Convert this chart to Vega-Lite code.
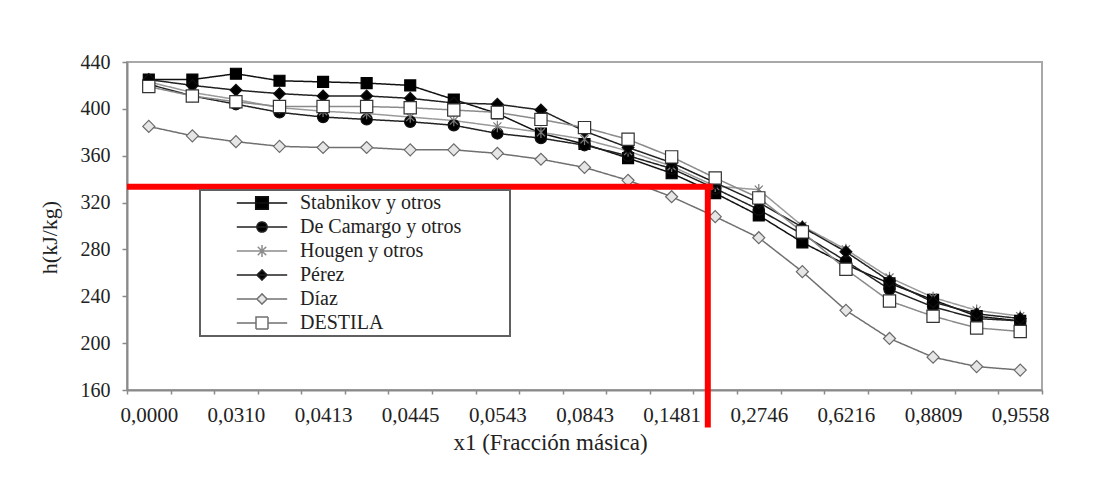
{
  "$schema": "https://vega.github.io/schema/vega-lite/v6.json",
  "width": 915,
  "height": 328,
  "autosize": {"type": "none"},
  "padding": {"left": 127, "top": 62, "right": 76, "bottom": 89},
  "background": "white",
  "config": {
    "font": "Liberation Serif",
    "view": {"stroke": "#a8a8a8", "strokeWidth": 2},
    "axis": {
      "labelFont": "Liberation Serif",
      "titleFont": "Liberation Serif",
      "labelColor": "#222222",
      "titleColor": "#222222",
      "titleFontWeight": "normal",
      "domainColor": "#8a8a8a",
      "domainWidth": 2,
      "tickColor": "#8a8a8a",
      "tickWidth": 1.5,
      "grid": false
    }
  },
  "layer": [
    {
      "data": {
        "values": [
          {"serie": "Stabnikov y otros", "i": 1, "h": 425}, {"serie": "Stabnikov y otros", "i": 2, "h": 425}, {"serie": "Stabnikov y otros", "i": 3, "h": 430}, {"serie": "Stabnikov y otros", "i": 4, "h": 424}, {"serie": "Stabnikov y otros", "i": 5, "h": 423}, {"serie": "Stabnikov y otros", "i": 6, "h": 422}, {"serie": "Stabnikov y otros", "i": 7, "h": 420}, {"serie": "Stabnikov y otros", "i": 8, "h": 408}, {"serie": "Stabnikov y otros", "i": 9, "h": 396}, {"serie": "Stabnikov y otros", "i": 10, "h": 379}, {"serie": "Stabnikov y otros", "i": 11, "h": 370}, {"serie": "Stabnikov y otros", "i": 12, "h": 358}, {"serie": "Stabnikov y otros", "i": 13, "h": 345}, {"serie": "Stabnikov y otros", "i": 14, "h": 328}, {"serie": "Stabnikov y otros", "i": 15, "h": 309}, {"serie": "Stabnikov y otros", "i": 16, "h": 286}, {"serie": "Stabnikov y otros", "i": 17, "h": 267}, {"serie": "Stabnikov y otros", "i": 18, "h": 251}, {"serie": "Stabnikov y otros", "i": 19, "h": 237}, {"serie": "Stabnikov y otros", "i": 20, "h": 223}, {"serie": "Stabnikov y otros", "i": 21, "h": 219},
          {"serie": "De Camargo y otros", "i": 1, "h": 421}, {"serie": "De Camargo y otros", "i": 2, "h": 411}, {"serie": "De Camargo y otros", "i": 3, "h": 404}, {"serie": "De Camargo y otros", "i": 4, "h": 397}, {"serie": "De Camargo y otros", "i": 5, "h": 393}, {"serie": "De Camargo y otros", "i": 6, "h": 391}, {"serie": "De Camargo y otros", "i": 7, "h": 389}, {"serie": "De Camargo y otros", "i": 8, "h": 386}, {"serie": "De Camargo y otros", "i": 9, "h": 379}, {"serie": "De Camargo y otros", "i": 10, "h": 375}, {"serie": "De Camargo y otros", "i": 11, "h": 369}, {"serie": "De Camargo y otros", "i": 12, "h": 360}, {"serie": "De Camargo y otros", "i": 13, "h": 349}, {"serie": "De Camargo y otros", "i": 14, "h": 332}, {"serie": "De Camargo y otros", "i": 15, "h": 314}, {"serie": "De Camargo y otros", "i": 16, "h": 293}, {"serie": "De Camargo y otros", "i": 17, "h": 270}, {"serie": "De Camargo y otros", "i": 18, "h": 246}, {"serie": "De Camargo y otros", "i": 19, "h": 231}, {"serie": "De Camargo y otros", "i": 20, "h": 221}, {"serie": "De Camargo y otros", "i": 21, "h": 219},
          {"serie": "Hougen y otros", "i": 1, "h": 423}, {"serie": "Hougen y otros", "i": 2, "h": 414}, {"serie": "Hougen y otros", "i": 3, "h": 408}, {"serie": "Hougen y otros", "i": 4, "h": 401}, {"serie": "Hougen y otros", "i": 5, "h": 398}, {"serie": "Hougen y otros", "i": 6, "h": 396}, {"serie": "Hougen y otros", "i": 7, "h": 393}, {"serie": "Hougen y otros", "i": 8, "h": 390}, {"serie": "Hougen y otros", "i": 9, "h": 385}, {"serie": "Hougen y otros", "i": 10, "h": 380}, {"serie": "Hougen y otros", "i": 11, "h": 374}, {"serie": "Hougen y otros", "i": 12, "h": 364}, {"serie": "Hougen y otros", "i": 13, "h": 351}, {"serie": "Hougen y otros", "i": 14, "h": 334}, {"serie": "Hougen y otros", "i": 15, "h": 331}, {"serie": "Hougen y otros", "i": 16, "h": 300}, {"serie": "Hougen y otros", "i": 17, "h": 280}, {"serie": "Hougen y otros", "i": 18, "h": 256}, {"serie": "Hougen y otros", "i": 19, "h": 239}, {"serie": "Hougen y otros", "i": 20, "h": 228}, {"serie": "Hougen y otros", "i": 21, "h": 223},
          {"serie": "Pérez", "i": 1, "h": 425}, {"serie": "Pérez", "i": 2, "h": 420}, {"serie": "Pérez", "i": 3, "h": 416}, {"serie": "Pérez", "i": 4, "h": 413}, {"serie": "Pérez", "i": 5, "h": 411}, {"serie": "Pérez", "i": 6, "h": 411}, {"serie": "Pérez", "i": 7, "h": 409}, {"serie": "Pérez", "i": 8, "h": 405}, {"serie": "Pérez", "i": 9, "h": 404}, {"serie": "Pérez", "i": 10, "h": 399}, {"serie": "Pérez", "i": 11, "h": 381}, {"serie": "Pérez", "i": 12, "h": 367}, {"serie": "Pérez", "i": 13, "h": 354}, {"serie": "Pérez", "i": 14, "h": 337}, {"serie": "Pérez", "i": 15, "h": 320}, {"serie": "Pérez", "i": 16, "h": 299}, {"serie": "Pérez", "i": 17, "h": 278}, {"serie": "Pérez", "i": 18, "h": 253}, {"serie": "Pérez", "i": 19, "h": 235}, {"serie": "Pérez", "i": 20, "h": 225}, {"serie": "Pérez", "i": 21, "h": 221},
          {"serie": "Díaz", "i": 1, "h": 385}, {"serie": "Díaz", "i": 2, "h": 377}, {"serie": "Díaz", "i": 3, "h": 372}, {"serie": "Díaz", "i": 4, "h": 368}, {"serie": "Díaz", "i": 5, "h": 367}, {"serie": "Díaz", "i": 6, "h": 367}, {"serie": "Díaz", "i": 7, "h": 365}, {"serie": "Díaz", "i": 8, "h": 365}, {"serie": "Díaz", "i": 9, "h": 362}, {"serie": "Díaz", "i": 10, "h": 357}, {"serie": "Díaz", "i": 11, "h": 350}, {"serie": "Díaz", "i": 12, "h": 339}, {"serie": "Díaz", "i": 13, "h": 325}, {"serie": "Díaz", "i": 14, "h": 308}, {"serie": "Díaz", "i": 15, "h": 290}, {"serie": "Díaz", "i": 16, "h": 261}, {"serie": "Díaz", "i": 17, "h": 228}, {"serie": "Díaz", "i": 18, "h": 204}, {"serie": "Díaz", "i": 19, "h": 188}, {"serie": "Díaz", "i": 20, "h": 180}, {"serie": "Díaz", "i": 21, "h": 177},
          {"serie": "DESTILA", "i": 1, "h": 419}, {"serie": "DESTILA", "i": 2, "h": 411}, {"serie": "DESTILA", "i": 3, "h": 406}, {"serie": "DESTILA", "i": 4, "h": 402}, {"serie": "DESTILA", "i": 5, "h": 402}, {"serie": "DESTILA", "i": 6, "h": 402}, {"serie": "DESTILA", "i": 7, "h": 401}, {"serie": "DESTILA", "i": 8, "h": 399}, {"serie": "DESTILA", "i": 9, "h": 397}, {"serie": "DESTILA", "i": 10, "h": 391}, {"serie": "DESTILA", "i": 11, "h": 384}, {"serie": "DESTILA", "i": 12, "h": 374}, {"serie": "DESTILA", "i": 13, "h": 359}, {"serie": "DESTILA", "i": 14, "h": 341}, {"serie": "DESTILA", "i": 15, "h": 324}, {"serie": "DESTILA", "i": 16, "h": 295}, {"serie": "DESTILA", "i": 17, "h": 263}, {"serie": "DESTILA", "i": 18, "h": 236}, {"serie": "DESTILA", "i": 19, "h": 223}, {"serie": "DESTILA", "i": 20, "h": 213}, {"serie": "DESTILA", "i": 21, "h": 210}
        ]
      },
      "encoding": {
        "x": {
          "field": "i",
          "type": "ordinal",
          "scale": {"type": "band", "paddingInner": 0, "paddingOuter": 0},
          "title": "x1 (Fracción másica)",
          "axis": {
            "labelAngle": 0,
            "labelFontSize": 21,
            "labelPadding": 10,
            "labelOverlap": false,
            "labelBound": false,
            "tickSize": 4,
            "tickBand": "extent",
            "titleFontSize": 23,
            "titlePadding": 6,
            "titleX": 423,
            "labelExpr": "['0,0000','','0,0310','','0,0413','','0,0445','','0,0543','','0,0843','','0,1481','','0,2746','','0,6216','','0,8809','','0,9558'][datum.value-1]"
          }
        },
        "y": {
          "field": "h",
          "type": "quantitative",
          "title": "h(kJ/kg)",
          "scale": {"domain": [160, 440], "nice": false, "zero": false},
          "axis": {
            "values": [160, 200, 240, 280, 320, 360, 400, 440],
            "labelFontSize": 20,
            "labelPadding": 12,
            "tickSize": 5,
            "titleFontSize": 22,
            "titlePadding": 19,
            "titleY": 175
          }
        }
      },
      "layer": [
        {
          "mark": {"type": "line", "strokeWidth": 1.5},
          "encoding": {
            "color": {
              "field": "serie",
              "type": "nominal",
              "scale": {
                "domain": ["DESTILA", "Díaz", "Pérez", "Hougen y otros", "De Camargo y otros", "Stabnikov y otros"],
                "range": ["#8a8a8a", "#707070", "#222222", "#9a9a9a", "#222222", "#111111"]
              },
              "legend": null
            },
            "strokeDash": {
              "field": "serie",
              "type": "nominal",
              "scale": {
                "domain": ["Stabnikov y otros", "De Camargo y otros", "Hougen y otros", "Pérez", "Díaz", "DESTILA"],
                "range": [[1, 0], [1, 0], [1, 0], [1, 0], [1, 0], [1, 0]]
              },
              "legend": {
                "title": null,
                "orient": "none",
                "legendX": 73,
                "legendY": 128,
                "padding": 3,
                "rowPadding": 4,
                "labelFont": "Liberation Serif",
                "labelFontSize": 20,
                "labelColor": "#222222",
                "labelLimit": 600,
                "labelOffset": 28,
                "symbolOffset": 49,
                "symbolSize": 144,
                "strokeColor": "#606060",
                "fillColor": "white",
                "labelExpr": "datum.label + '\u2800\u2800\u2800'",
                "encode": {
                  "legend": {"update": {"strokeWidth": {"value": 2}}},
                  "symbols": {
                    "update": {
                      "shape": {"signal": "['M-4.2,0H4.2M-1.05,-1.05H1.05V1.05H-1.05Z','M-4.2,0H4.2M-0.85,0A0.85,0.85,0,1,0,0.85,0A0.85,0.85,0,1,0,-0.85,0Z','M-4.2,0H4.2M-0.7,-0.7L0.7,0.7M-0.7,0.7L0.7,-0.7M0,-1V1','M-4.2,0H4.2M0,-0.85L0.85,0L0,0.85L-0.85,0Z','M-4.2,0H-0.85M0.85,0H4.2M0,-0.85L0.85,0L0,0.85L-0.85,0Z','M-4.2,0H-1M1,0H4.2M-1,-1H1V1H-1Z'][indexof(['Stabnikov y otros','De Camargo y otros','Hougen y otros','Pérez','Díaz','DESTILA'], datum.value)]"},
                      "fill": {"signal": "['#000000','#000000','transparent','#000000','#e6e6e6','#ffffff'][indexof(['Stabnikov y otros','De Camargo y otros','Hougen y otros','Pérez','Díaz','DESTILA'], datum.value)]"},
                      "stroke": {"signal": "['#111111','#222222','#8c8c8c','#222222','#707070','#707070'][indexof(['Stabnikov y otros','De Camargo y otros','Hougen y otros','Pérez','Díaz','DESTILA'], datum.value)]"},
                      "strokeWidth": {"value": 1.5},
                      "size": {"value": 144},
                      "opacity": {"value": 1}
                    }
                  }
                }
              }
            }
          }
        },
        {
          "mark": {"type": "point", "filled": false, "opacity": 1, "strokeWidth": 1.2},
          "encoding": {
            "shape": {
              "field": "serie",
              "type": "nominal",
              "scale": {
                "domain": ["DESTILA", "Díaz", "Pérez", "Hougen y otros", "De Camargo y otros", "Stabnikov y otros"],
                "range": ["square", "diamond", "diamond", "M-0.7,-0.7L0.7,0.7M-0.7,0.7L0.7,-0.7M0,-1V1", "circle", "square"]
              },
              "legend": null
            },
            "fill": {
              "field": "serie",
              "type": "nominal",
              "scale": {
                "domain": ["DESTILA", "Díaz", "Pérez", "Hougen y otros", "De Camargo y otros", "Stabnikov y otros"],
                "range": ["#ffffff", "#e6e6e6", "#000000", "transparent", "#000000", "#000000"]
              },
              "legend": null
            },
            "stroke": {
              "field": "serie",
              "type": "nominal",
              "scale": {
                "domain": ["DESTILA", "Díaz", "Pérez", "Hougen y otros", "De Camargo y otros", "Stabnikov y otros"],
                "range": ["#333333", "#6a6a6a", "#111111", "#7a7a7a", "#111111", "#000000"]
              },
              "legend": null
            },
            "size": {
              "field": "serie",
              "type": "nominal",
              "scale": {
                "domain": ["DESTILA", "Díaz", "Pérez", "Hougen y otros", "De Camargo y otros", "Stabnikov y otros"],
                "range": [150, 120, 90, 100, 100, 160]
              },
              "legend": null
            }
          }
        }
      ]
    },
    {
      "data": {
        "values": [
          {"xr": 0, "xr2": 13.45, "h": 333.6, "h2": 333.6},
          {"xr": 13.33, "xr2": 13.33, "h": 336, "h2": 128}
        ]
      },
      "mark": {"type": "rule", "color": "#ff0000", "strokeWidth": 6},
      "encoding": {
        "x": {"field": "xr", "type": "quantitative", "scale": {"domain": [0, 21], "nice": false, "zero": false}, "axis": null},
        "x2": {"field": "xr2"},
        "y": {"field": "h", "type": "quantitative", "title": "h(kJ/kg)", "scale": {"domain": [160, 440], "nice": false, "zero": false}},
        "y2": {"field": "h2"}
      }
    }
  ],
  "resolve": {"scale": {"x": "independent"}}
}
